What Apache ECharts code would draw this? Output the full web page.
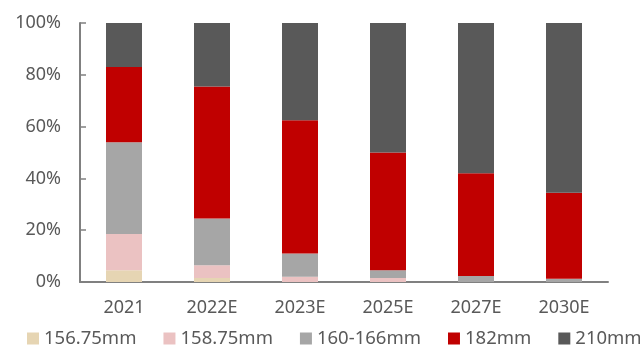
<!DOCTYPE html>
<html>
<head>
<meta charset="utf-8">
<script src="https://cdn.jsdelivr.net/npm/echarts@6/dist/echarts.min.js"></script>
<style>
html,body{margin:0;padding:0;background:#fff;}
#main{width:640px;height:347px;}
</style>
</head>
<body>
<div id="main"></div>
<script>
// 年份
var years = ['2021', '2022E', '2023E', '2025E', '2027E', '2030E'];
// 各尺寸占比(%)
var s15675 = [4.5, 1.5, 0, 0, 0, 0];
var s15875 = [14, 5, 2, 1.5, 0, 0];
var s160166 = [35.5, 18, 9, 3, 2.3, 1.3];
var s182 = [29, 51, 51.5, 45.5, 39.7, 33.2];
var s210 = [17, 24.5, 37.5, 50, 58, 65.5];
var yTicks = [0, 20, 40, 60, 80, 100];

var names = ['156.75mm', '158.75mm', '160-166mm', '182mm', '210mm'];
var colors = ['#E6D5B3', '#EBC2C2', '#A6A6A6', '#C00000', '#595959'];
var datas = [s15675, s15875, s160166, s182, s210];

var myChart = echarts.init(document.getElementById('main'));
var series = [];
for (var i = 0; i < names.length; i++) {
	series.push({
		name: names[i],
		type: 'bar',
		stack: 'total',
		barWidth: 36,
		itemStyle: { color: colors[i] },
		data: datas[i]
	});
}
var option = {
	backgroundColor: '#fff',
	textStyle: { fontFamily: 'Noto Sans' },
	animation: false,
	legend: {
		data: names,
		top: 324,
		left: 22,
		width: 700,
		padding: 5,
		icon: 'rect',
		itemWidth: 12,
		itemHeight: 12,
		itemGap: 27,
		textStyle: { fontSize: 18.5, color: '#595959' }
	},
	grid: { left: 80, right: 32, top: 23, bottom: 65 },
	xAxis: {
		type: 'category',
		data: years,
		axisLine: { lineStyle: { color: '#808080', width: 2 } },
		axisTick: { show: false },
		axisLabel: { fontSize: 18, color: '#595959', margin: 17 }
	},
	yAxis: {
		type: 'value',
		min: 0,
		max: 100,
		interval: 20,
		axisLine: { show: true, lineStyle: { color: '#808080', width: 2 } },
		axisTick: { show: true, inside: true, length: 6, lineStyle: { color: '#808080', width: 1.5 } },
		splitLine: { show: false },
		axisLabel: {
			fontSize: 18, color: '#595959', margin: 19,
			formatter: function (v) { return yTicks.indexOf(v) >= 0 ? v + '%' : ''; }
		}
	},
	series: series
};
myChart.setOption(option);
</script>
</body>
</html>
